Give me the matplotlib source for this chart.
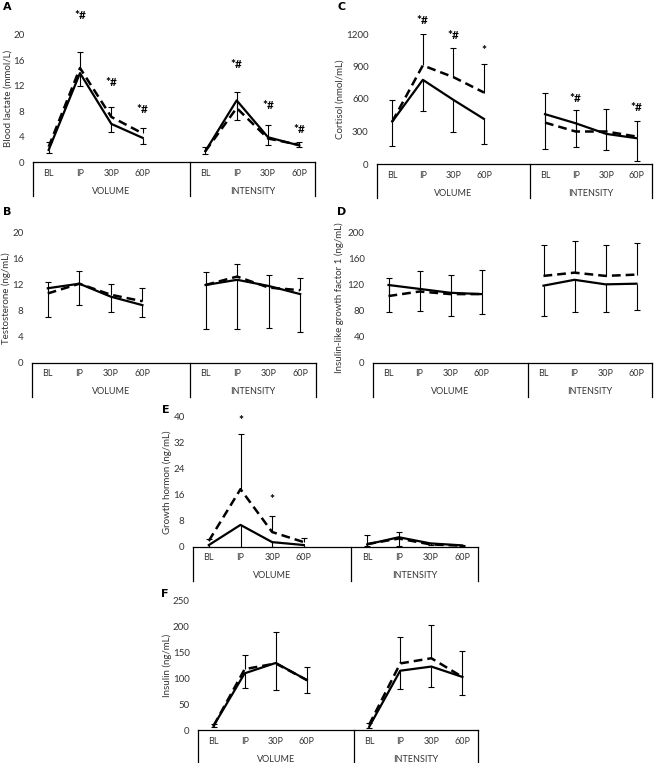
import matplotlib.pyplot as plt

plt.rcParams['font.family'] = ['Lato', 'DejaVu Sans']

W, H = 654, 763
cats = ['BL', 'IP', '30P', '60P']
groups = ['VOLUME', 'INTENSITY']
xpos = [0, 1, 2, 3, 5, 6, 7, 8]

# A - blood lactate
lac_solid = [1.9, 14.0, 6.0, 3.8, 1.7, 9.7, 3.9, 2.6]
lac_dashed = [2.4, 14.8, 7.1, 4.5, 1.7, 8.5, 3.7, 2.7]
lac_sd_up = [0.8, 2.6, 1.6, 0.8, 0.7, 2.5, 2.2, 0.5]
lac_sd_down = [0.5, 2.1, 1.3, 0.9, 0.4, 3.1, 1.2, 0.3]
lac_marks = [(1, 23.0, '*#'), (2, 12.5, '*#'), (3, 8.2, '*#'),
             (6, 15.3, '*#'), (7, 8.9, '*#'), (8, 5.1, '*#')]

# B - testosterone
tes_solid = [11.5, 12.2, 10.2, 8.9, 12.0, 12.8, 11.85, 10.6]
tes_dashed = [10.7, 12.2, 10.5, 9.5, 12.0, 13.3, 11.6, 11.2]
tes_sd_up = [1.8, 2.0, 1.6, 2.0, 1.95, 2.0, 1.9, 1.9]
tes_sd_down = [4.4, 3.2, 2.4, 1.8, 6.8, 7.6, 6.45, 5.8]

# C - cortisol
cor_solid = [392, 777, 592, 416, 460, 376, 278, 238]
cor_dashed = [392, 910, 802, 660, 382, 300, 300, 253]
cor_sd_up = [203, 290, 268, 265, 272, 200, 209, 148]
cor_sd_down = [222, 290, 292, 234, 324, 219, 152, 207]
cor_marks = [(1, 1327, '*#'), (2, 1185, '*#'), (3, 1049, '*'),
             (6, 608, '*#'), (8, 525, '*#')]

# D - IGF-1
igf_solid = [120, 114, 108, 106, 119, 128, 121, 122]
igf_dashed = [103, 110, 106, 106, 134, 139, 134, 136]
igf_sd_up = [28, 32, 30, 37, 47, 48, 48, 48]
igf_sd_down = [42, 34, 35, 31, 46, 49, 43, 41]

# E - growth hormone
gh_solid = [0.6, 6.8, 1.5, 0.6, 0.8, 3.0, 1.1, 0.5]
gh_dashed = [1.9, 17.8, 4.6, 1.5, 0.9, 2.6, 0.8, 0.4]
gh_sd_up = [0.5, 17.0, 4.8, 1.4, 2.7, 2.0, 0.3, 0.2]
gh_sd_down = [0.6, 7.5, 1.5, 0.6, 0.6, 2.8, 0.5, 0.3]
gh_marks = [(1, 39.0, '*'), (2, 14.7, '*')]

# F - insulin
ins_solid = [8, 109, 129, 96, 6, 114, 122, 102]
ins_dashed = [8, 117, 128, 96, 10, 128, 138, 102]
ins_sd_up = [3, 27, 61, 26, 4, 50, 64, 50]
ins_sd_down = [3, 29, 52, 25, 3, 36, 39, 35]

fig = plt.figure(figsize=(W / 100, H / 100), dpi=100)
txt = '#333333'


def panel(box, letter, letter_xy, ylabel, ymax, step, solid, dashed, up,
          down, marks=(), lab_x=8):
    l, t, r, b = box
    hpx = b - t
    ax = fig.add_axes([l / W, 1 - b / H, (r - l) / W, hpx / H])
    ax.set_xlim(-0.5, 8.5)
    ax.set_ylim(0, ymax)
    for s in ax.spines.values():
        s.set_visible(False)
    ax.set_xticks([])
    ax.set_yticks(range(0, ymax + 1, step))
    ax.tick_params(axis='y', length=0, pad=6, labelsize=7, labelcolor=txt)
    ax.set_ylabel(ylabel, fontsize=7, color=txt)
    ax.yaxis.set_label_coords((lab_x + 4.5 - l) / (r - l), 0.5)

    # error bars: dashed series upward, solid series downward
    tops = [d + u for d, u in zip(dashed, up)]
    bots = [s - d for s, d in zip(solid, down)]
    ax.vlines(xpos, dashed, tops, color='k', lw=0.8)
    ax.vlines(xpos, bots, solid, color='k', lw=0.8)
    ax.plot(xpos, tops, ls='none', marker='_', ms=5, mew=0.8, color='k')
    ax.plot(xpos, bots, ls='none', marker='_', ms=5, mew=0.8, color='k')

    for sl in (slice(0, 4), slice(4, 8)):
        ax.plot(xpos[sl], dashed[sl], color='k', lw=1.8,
                ls=(0, (3.5, 2)), solid_capstyle='butt')
        ax.plot(xpos[sl], solid[sl], color='k', lw=1.6)

    for x, y, s in marks:
        ax.text(x, y, s, ha='center', va='center', fontsize=8.5,
                fontweight='bold', clip_on=False)

    # category box below the plot
    depth = -34 / hpx
    ax.plot([-0.5, 8.5], [0, 0], color='k', lw=0.9, clip_on=False)
    for xv in (-0.5, 4.5, 8.5):
        ax.plot([xv, xv], [0, depth], color='k', lw=0.9, clip_on=False,
                transform=ax.get_xaxis_transform())
    for i, x in enumerate(xpos):
        ax.text(x, -11 / hpx, cats[i % 4], ha='center', va='center',
                fontsize=6.5, color=txt, transform=ax.get_xaxis_transform())
    for x, g in zip((2, 6.5), groups):
        ax.text(x, -29 / hpx, g, ha='center', va='center', fontsize=6.5,
                color=txt, transform=ax.get_xaxis_transform())

    fig.text(letter_xy[0] / W, 1 - letter_xy[1] / H, letter, fontsize=8,
             fontweight='bold', family='DejaVu Sans', ha='left', va='center')
    return ax


panel((33, 35, 315, 162), 'A', (3, 7), 'Blood lactate (mmol/L)', 20, 4,
      lac_solid, lac_dashed, lac_sd_up, lac_sd_down, lac_marks, 8)
panel((377, 34, 652, 164), 'C', (337, 7), 'Cortisol (nmol/mL)', 1200, 300,
      cor_solid, cor_dashed, cor_sd_up, cor_sd_down, cor_marks, 340)
panel((32, 233, 316, 363), 'B', (3, 212), 'Testosterone (ng/mL)', 20, 4,
      tes_solid, tes_dashed, tes_sd_up, tes_sd_down, (), 7)
panel((373, 233, 652, 363), 'D', (337, 212),
      'Insulin-like growth factor 1 (ng/mL)', 200, 40,
      igf_solid, igf_dashed, igf_sd_up, igf_sd_down, (), 340)
panel((193, 417, 478, 547), 'E', (162, 410), 'Growth hormon (ng/mL)', 40, 8,
      gh_solid, gh_dashed, gh_sd_up, gh_sd_down, gh_marks, 167)
panel((198, 600, 478, 730), 'F', (161, 594), 'Insulin (ng/mL)', 250, 50,
      ins_solid, ins_dashed, ins_sd_up, ins_sd_down, (), 167)

fig.savefig('out.png', dpi=100)
